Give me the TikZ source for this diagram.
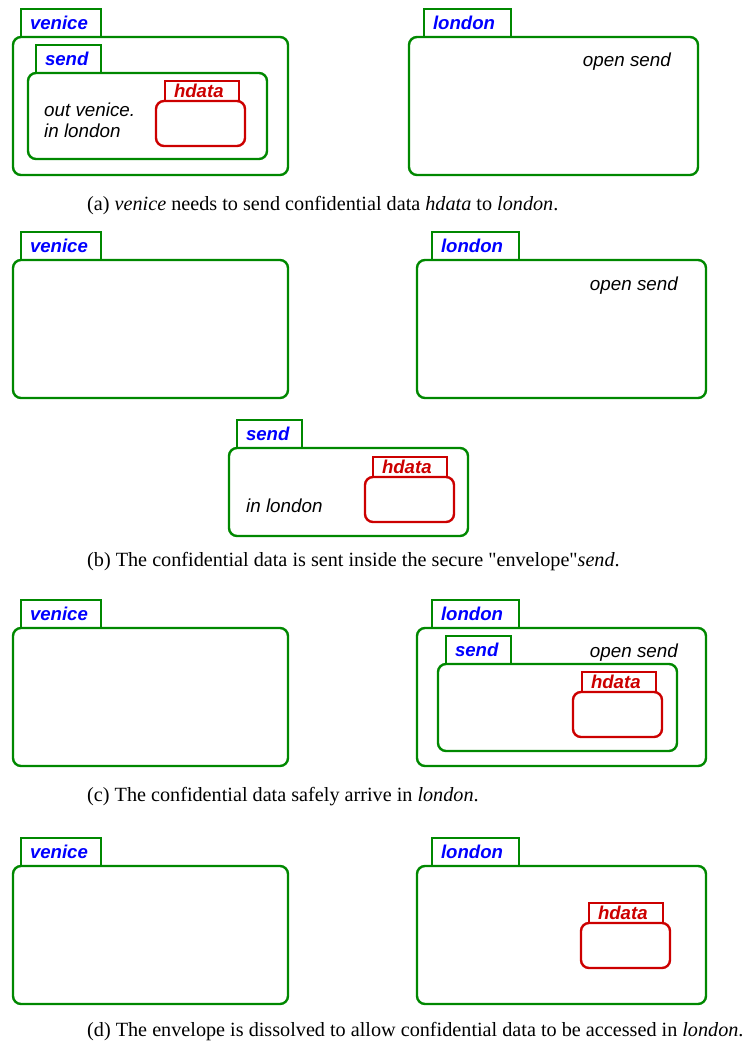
\documentclass[tikz,border=0pt]{standalone}
\usepackage{fontspec}
\setmainfont{Liberation Serif}
\newfontfamily\helvfont{Liberation Sans}
\definecolor{ambgreen}{RGB}{0,136,0}
\definecolor{nameblue}{RGB}{0,0,255}
\definecolor{datared}{RGB}{204,0,0}

\begin{document}
\begin{tikzpicture}[x=1pt, y=-1pt,
  amb/.style={draw=ambgreen, line width=2.4pt, rounded corners=8pt, anchor=north west, outer sep=0pt, inner sep=0pt, minimum height=138pt},
  ambtab/.style={draw=ambgreen, line width=1.1pt, anchor=south west, outer sep=0pt, inner xsep=9pt, inner ysep=0pt, minimum height=28pt, text width=#1, align=left, text=nameblue, font=\helvfont\bfseries\itshape\fontsize{18.6}{21}\selectfont},
  dat/.style={draw=datared, line width=2.4pt, rounded corners=8pt, anchor=north west, outer sep=0pt, inner sep=0pt, minimum width=89pt, minimum height=45pt},
  dattab/.style={draw=datared, line width=1.1pt, anchor=south west, outer sep=0pt, inner xsep=9pt, inner ysep=0pt, minimum height=20pt, text width=56pt, align=left, text=datared, font=\helvfont\bfseries\itshape\fontsize{18.6}{21}\selectfont},
  note/.style={inner sep=0pt, font=\helvfont\itshape\fontsize{18.8}{21}\selectfont},
  capline/.style={anchor=base west, inner sep=0pt, font=\fontsize{20.2}{23}\selectfont}]
  \useasboundingbox (0,0) rectangle (742,1043);

  % (a) send packed inside venice
  \node[amb, minimum width=275pt] (veniceA) at (13,37) {};
  \node[ambtab=62pt] (veniceAtab) at ([xshift=8pt]veniceA.north west) {venice};
  \node[amb, minimum width=239pt, minimum height=86pt] (sendA) at (28,73) {};
  \node[ambtab=47pt] (sendAtab) at ([xshift=8pt]sendA.north west) {send};
  \node[note, anchor=base west] (outA) at (44,117) {out venice.};
  \node[note, anchor=base west] (inA) at (44,138) {in london};
  \node[dat] (hdataA) at (156,101) {};
  \node[dattab] (hdataAtab) at ([xshift=9pt]hdataA.north west) {hdata};
  \node[amb, minimum width=289pt] (londonA) at (409,37) {};
  \node[ambtab=69pt] (londonAtab) at ([xshift=15pt]londonA.north west) {london};
  \node[note, anchor=base east] (openA) at (671,67) {open send};
  \node[capline] (capA) at (87,210) {(a) \textit{venice} needs to send confidential data \textit{hdata} to \textit{london}.};

  % (b) send on its way
  \node[amb, minimum width=275pt] (veniceB) at (13,260) {};
  \node[ambtab=62pt] (veniceBtab) at ([xshift=8pt]veniceB.north west) {venice};
  \node[amb, minimum width=289pt] (londonB) at (417,260) {};
  \node[ambtab=69pt] (londonBtab) at ([xshift=15pt]londonB.north west) {london};
  \node[note, anchor=base east] (openB) at (678,290) {open send};
  \node[amb, minimum width=239pt, minimum height=88pt] (sendB) at (229,448) {};
  \node[ambtab=47pt] (sendBtab) at ([xshift=8pt]sendB.north west) {send};
  \node[note, anchor=base west] (inB) at (246,512) {in london};
  \node[dat] (hdataB) at (365,477) {};
  \node[dattab] (hdataBtab) at ([xshift=8pt]hdataB.north west) {hdata};
  \node[capline] (capB) at (87,566) {(b) The confidential data is sent inside the secure \textquotedbl envelope\textquotedbl\textit{send}.};

  % (c) send arrived in london
  \node[amb, minimum width=275pt] (veniceC) at (13,628) {};
  \node[ambtab=62pt] (veniceCtab) at ([xshift=8pt]veniceC.north west) {venice};
  \node[amb, minimum width=289pt] (londonC) at (417,628) {};
  \node[ambtab=69pt] (londonCtab) at ([xshift=15pt]londonC.north west) {london};
  \node[note, anchor=base east] (openC) at (678,657) {open send};
  \node[amb, minimum width=239pt, minimum height=87pt] (sendC) at (438,664) {};
  \node[ambtab=47pt] (sendCtab) at ([xshift=8pt]sendC.north west) {send};
  \node[dat] (hdataC) at (573,692) {};
  \node[dattab] (hdataCtab) at ([xshift=9pt]hdataC.north west) {hdata};
  \node[capline] (capC) at (87,801) {(c) The confidential data safely arrive in \textit{london}.};

  % (d) envelope opened
  \node[amb, minimum width=275pt] (veniceD) at (13,866) {};
  \node[ambtab=62pt] (veniceDtab) at ([xshift=8pt]veniceD.north west) {venice};
  \node[amb, minimum width=289pt] (londonD) at (417,866) {};
  \node[ambtab=69pt] (londonDtab) at ([xshift=15pt]londonD.north west) {london};
  \node[dat] (hdataD) at (581,923) {};
  \node[dattab] (hdataDtab) at ([xshift=8pt]hdataD.north west) {hdata};
  \node[capline] (capD) at (87,1036) {(d) The envelope is dissolved to allow confidential data to be accessed in \textit{london}.};
\end{tikzpicture}
\end{document}
